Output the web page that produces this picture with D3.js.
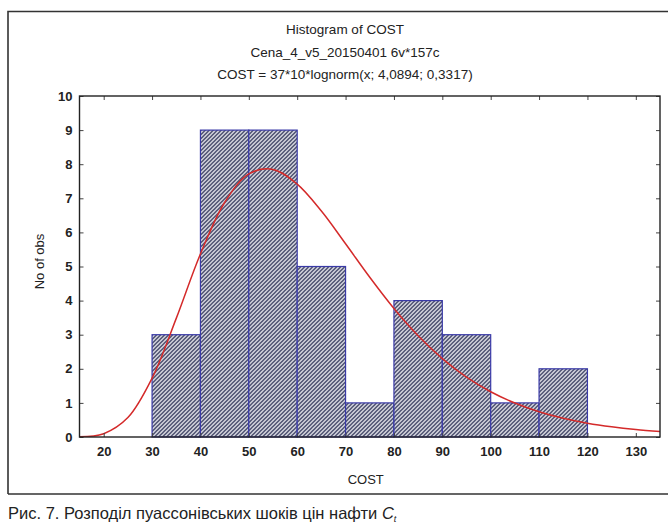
<!DOCTYPE html>
<html>
<head>
<meta charset="utf-8">
<script src="https://cdn.jsdelivr.net/npm/d3@7"></script>
<style>
  body { margin: 0; background: #fff; }
  svg { display: block; }
  text { font-family: "Liberation Sans", Arial, sans-serif; fill: #222; }
</style>
</head>
<body>
<script>
// data
const binStarts = [30, 40, 50, 60, 70, 80, 90, 100, 110];
const binWidth = 10;
const counts = [3, 9, 9, 5, 1, 4, 3, 1, 2];

// fitted lognormal curve (37*10*lognorm(x; 4,0894; 0,3317)), tabulated
const fitX = [15, 20, 25, 30, 35, 40, 45, 50, 55, 60, 65, 70, 75, 80, 85, 90, 95, 100, 105, 110, 115, 120, 125, 130, 135];
const fitY = [0.005, 0.097, 0.569, 1.724, 3.479, 5.367, 6.877, 7.714, 7.847, 7.416, 6.625, 5.666, 4.684, 3.769, 2.969, 2.300, 1.757, 1.328, 0.996, 0.741, 0.549, 0.405, 0.298, 0.218, 0.160];

const xTicks = [20, 30, 40, 50, 60, 70, 80, 90, 100, 110, 120, 130];
const yTicks = [0, 1, 2, 3, 4, 5, 6, 7, 8, 9, 10];

const titles = ["Histogram of COST", "Cena_4_v5_20150401 6v*157c", "COST = 37*10*lognorm(x; 4,0894; 0,3317)"];
const xLabel = "COST";
const yLabel = "No of obs";
const caption = "Рис. 7. Розподіл пуассонівських шоків цін нафти ";

//////////////////////////////////////////////////

const W = 668, H = 525;
const margin = { top: 96, right: 8, bottom: 88, left: 79.5 };
const width = W - margin.left - margin.right;
const height = H - margin.top - margin.bottom;

const xScale = d3.scaleLinear().domain([15, 135]).range([0, width]);
const yScale = d3.scaleLinear().domain([0, 10]).range([height, 0]);

const svg = d3.select('body').append('svg')
    .attr('width', W)
    .attr('height', H);

// hatch fill
const defs = svg.append('defs');
defs.append('pattern')
    .attr('id', 'hatch')
    .attr('patternUnits', 'userSpaceOnUse')
    .attr('width', 4)
    .attr('height', 4)
  .call(p => p.append('rect').attr('width', 4).attr('height', 4).attr('fill', '#f4f4f8'))
  .append('path')
    .attr('d', 'M-1,1 l2,-2 M0,4 l4,-4 M3,5 l2,-2')
    .attr('stroke', '#23284e')
    .attr('stroke-width', 1.3);

defs.append('clipPath').attr('id', 'clip')
  .append('rect').attr('width', width).attr('height', height);

// outer frame
svg.append('path')
    .attr('d', 'M8,494 V11.5 H' + (W + 2) + ' M8,494 H' + (W + 2))
    .attr('fill', 'none')
    .attr('stroke', '#333')
    .attr('stroke-width', 1.6);

// titles
svg.selectAll('.title')
  .data(titles)
  .enter().append('text')
    .attr('class', 'title')
    .attr('x', 345)
    .attr('y', (d, i) => 34 + i * 22.5)
    .attr('text-anchor', 'middle')
    .style('font-size', '13.5px')
    .text(d => d);

const g = svg.append('g')
    .attr('transform', 'translate(' + margin.left + ',' + margin.top + ')');

// bars
g.selectAll('.bar')
  .data(binStarts)
  .enter().append('rect')
    .attr('class', 'bar')
    .attr('x', d => xScale(d))
    .attr('y', (d, i) => yScale(counts[i]))
    .attr('width', d => xScale(d + binWidth) - xScale(d))
    .attr('height', (d, i) => yScale(0) - yScale(counts[i]))
    .attr('fill', 'url(#hatch)')
    .attr('stroke', '#3a3aa8')
    .attr('stroke-width', 1.2);

// fitted curve
const line = d3.line()
    .x((d, i) => xScale(d))
    .y((d, i) => yScale(fitY[i]))
    .curve(d3.curveCatmullRom);

g.append('path')
    .datum(fitX)
    .attr('clip-path', 'url(#clip)')
    .attr('d', line)
    .attr('fill', 'none')
    .attr('stroke', '#d42a2a')
    .attr('stroke-width', 1.5);

// axes, ticks inside on all four sides
const xAxis = d3.axisBottom(xScale).tickValues(xTicks).tickSizeInner(-4).tickSizeOuter(0).tickPadding(10);
const yAxis = d3.axisLeft(yScale).tickValues(yTicks).tickSizeInner(-4).tickSizeOuter(0).tickPadding(7);

g.append('g')
    .attr('transform', 'translate(0,' + height + ')')
    .call(xAxis)
    .call(a => a.select('.domain').remove());

g.append('g')
    .call(yAxis)
    .call(a => a.select('.domain').remove());

g.append('g')
    .call(d3.axisTop(xScale).tickValues(xTicks).tickSizeInner(-4).tickSizeOuter(0).tickFormat(''))
    .call(a => a.select('.domain').remove());

g.append('g')
    .attr('transform', 'translate(' + width + ',0)')
    .call(d3.axisRight(yScale).tickValues(yTicks).tickSizeInner(-4).tickSizeOuter(0).tickFormat(''))
    .call(a => a.select('.domain').remove());

g.selectAll('.tick line').attr('stroke', '#444');
g.selectAll('.tick text')
    .style('font-family', '"Liberation Sans", Arial, sans-serif')
    .style('font-size', '13px')
    .style('font-weight', 'bold')
    .attr('fill', '#222');

// plot frame
g.append('rect')
    .attr('width', width)
    .attr('height', height)
    .attr('fill', 'none')
    .attr('stroke', '#222')
    .attr('stroke-width', 1.4);

// axis labels
g.append('text')
    .attr('x', width / 2 - 4)
    .attr('y', height + 47)
    .attr('text-anchor', 'middle')
    .style('font-size', '13px')
    .text(xLabel);

g.append('text')
    .attr('transform', 'translate(' + (-36) + ',' + (yScale(5) - 5) + ') rotate(-90)')
    .attr('text-anchor', 'middle')
    .style('font-size', '13px')
    .text(yLabel);

// caption
const cap = svg.append('text')
    .attr('x', 8)
    .attr('y', 519)
    .style('font-family', '"Liberation Sans Narrow", "Liberation Sans", Arial, sans-serif')
    .style('font-size', '16.5px')
    .text(caption);
cap.append('tspan').style('font-style', 'italic').text('C');
cap.append('tspan').attr('dy', 3).style('font-size', '9px').style('font-style', 'italic').text('t');
</script>
</body>
</html>
